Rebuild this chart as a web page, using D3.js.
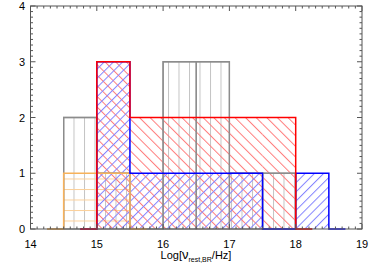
<!DOCTYPE html>
<html><head><meta charset="utf-8">
<script src="https://cdn.jsdelivr.net/npm/d3@7/dist/d3.min.js"></script>
<style>body{margin:0;background:#fff}svg{display:block}text{font-family:"Liberation Sans",Arial,sans-serif}</style>
</head><body><svg id="c" width="374" height="267"></svg>
<script>
const binStarts = [14.5, 15, 15.5, 16, 16.5, 17, 17.5, 18];
const binWidth = 0.5;
const grayCounts   = [2, 1, 0, 3, 3, 1, 1, 0];
const orangeCounts = [1, 1, 0, 0, 0, 0, 0, 0];
const redCounts    = [0, 3, 2, 2, 2, 2, 2, 0];
const blueCounts   = [0, 3, 1, 1, 1, 1, 0, 1];
const xTicks = [14, 15, 16, 17, 18, 19];
const yTicks = [0, 1, 2, 3, 4];

const svg = d3.select("#c");
const L = 30.5, R = 362, T = 6, B = 229;
const x = d3.scaleLinear().domain([14, 19]).range([L, R]);
const y = d3.scaleLinear().domain([0, 4]).range([B, T]);

const defs = svg.append("defs");
function pat(id, spacing, angle, color) {
  const p = defs.append("pattern").attr("id", id).attr("patternUnits", "userSpaceOnUse")
    .attr("width", spacing).attr("height", spacing)
    .attr("patternTransform", `rotate(${angle})`);
  p.append("line").attr("x1", 0.5).attr("y1", 0).attr("x2", 0.5).attr("y2", spacing)
    .attr("stroke", color).attr("stroke-width", 1);
}
pat("hGray", 10.5, 0, "#c4c4c4");
pat("hOrange", 10.5, 90, "#fbd09a");
pat("hRed", 7.5, -45, "#ff7c7c");
pat("hBlue", 6.5, 45, "#8484ff");

function fillBars(counts, patId) {
  svg.append("g").selectAll("rect").data(binStarts.map((s, i) => ({s, c: counts[i]})).filter(d => d.c > 0))
    .join("rect")
    .attr("x", d => x(d.s)).attr("width", d => x(d.s + binWidth) - x(d.s))
    .attr("y", d => y(d.c)).attr("height", d => y(0) - y(d.c))
    .attr("fill", `url(#${patId})`);
}
function stepPath(counts) {
  let first = counts.findIndex(c => c > 0);
  let last = counts.length - 1 - [...counts].reverse().findIndex(c => c > 0);
  const pts = [[binStarts[first] - binWidth / 2, 0], [binStarts[first], 0]];
  for (let i = first; i <= last; i++) {
    pts.push([binStarts[i], counts[i]]);
    pts.push([binStarts[i] + binWidth, counts[i]]);
  }
  pts.push([binStarts[last] + binWidth, 0]);
  pts.push([binStarts[last] + binWidth * 1.5, 0]);
  return d3.line().x(d => x(d[0])).y(d => y(d[1]))(pts);
}
function outline(counts, color, w) {
  svg.append("path").attr("d", stepPath(counts)).attr("fill", "none")
    .attr("stroke", color).attr("stroke-width", w);
}

fillBars(grayCounts, "hGray");
fillBars(orangeCounts, "hOrange");
fillBars(redCounts, "hRed");
fillBars(blueCounts, "hBlue");

svg.append("g").selectAll("rect").data(binStarts.map((s, i) => ({s, c: grayCounts[i]})).filter(d => d.c > 0))
  .join("rect")
  .attr("x", d => x(d.s)).attr("width", d => x(d.s + binWidth) - x(d.s))
  .attr("y", d => y(d.c)).attr("height", d => y(0) - y(d.c))
  .attr("fill", "none").attr("stroke", "#8c8c8c").attr("stroke-width", 1.3);
outline(grayCounts, "#8c8c8c", 1.3);
outline(orangeCounts, "#f7b25a", 1.5);
outline(blueCounts, "#0000ff", 1.5);
outline(redCounts, "#ff0000", 1.5);

const ax = svg.append("g").attr("stroke", "#555").attr("fill", "none");
ax.append("rect").attr("x", L).attr("y", T).attr("width", R - L).attr("height", B - T).attr("stroke-width", 1);
const xMinor = d3.range(14, 19.001, 0.1);
const yMinor = d3.range(0, 4.001, 0.1);
xMinor.forEach(v => {
  const major = Math.abs(v - Math.round(v)) < 1e-6;
  const len = major ? 5 : 2.5;
  ax.append("line").attr("x1", x(v)).attr("x2", x(v)).attr("y1", B).attr("y2", B - len);
  ax.append("line").attr("x1", x(v)).attr("x2", x(v)).attr("y1", T).attr("y2", T + len);
});
yMinor.forEach(v => {
  const major = Math.abs(v - Math.round(v)) < 1e-6;
  const len = major ? 5 : 2.5;
  ax.append("line").attr("y1", y(v)).attr("y2", y(v)).attr("x1", L).attr("x2", L + len);
  ax.append("line").attr("y1", y(v)).attr("y2", y(v)).attr("x1", R).attr("x2", R - len);
});

svg.append("g").selectAll("text").data(xTicks).join("text")
  .attr("x", d => x(d)).attr("y", 248).attr("text-anchor", "middle")
  .attr("font-size", 11).text(d => d);
svg.append("g").selectAll("text").data(yTicks).join("text")
  .attr("x", 25).attr("y", d => y(d) + 4).attr("text-anchor", "end")
  .attr("font-size", 11).text(d => d);

const t = svg.append("text").attr("x", 196).attr("y", 259).attr("text-anchor", "middle").attr("font-size", 11);
t.append("tspan").text("Log[");
t.append("tspan").attr("font-size", 13).text("ν");
t.append("tspan").attr("font-size", 7).attr("dy", 2.5).text("rest,BR");
t.append("tspan").attr("dy", -2.5).text("/Hz]");
</script></body></html>
